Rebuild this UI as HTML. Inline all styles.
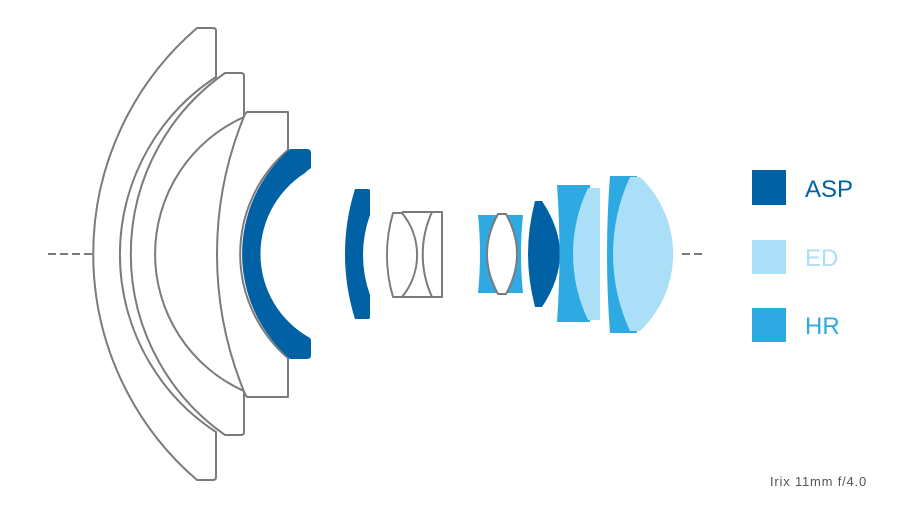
<!DOCTYPE html>
<html><head><meta charset="utf-8"><style>
html,body{margin:0;padding:0;background:#fff;}
svg{display:block}
</style></head><body>
<svg width="900" height="509" viewBox="0 0 900 509" xmlns="http://www.w3.org/2000/svg">
<g fill="none" stroke="#7b7b7b" stroke-width="2" stroke-linejoin="round">
<line x1="48" y1="254" x2="100" y2="254" stroke-dasharray="8,4"/>
<line x1="682" y1="254" x2="702" y2="254" stroke-dasharray="8,4"/>
<path d="M197,28 L213,28 Q216,28 216,31 L216,77 A212,212 0 0 0 216,432 L216,477 Q216,480 213,480 L197,480 A298,298 0 0 1 197,28 Z" fill="#fff"/>
<path d="M225,73 L241,73 Q244,73 244,76 L244,117 A150,150 0 0 0 244,391 L244,432 Q244,435 241,435 L225,435 A221,221 0 0 1 225,73 Z" fill="#fff"/>
<path d="M247,112 L288,112 L288,150 A137,137 0 0 0 288,358 L288,397 L247,397 L245,394 A364,364 0 0 1 245,114 Z" fill="#fff"/>
</g>
<path d="M290,149 L307,149 Q311,149 311,153 L311,168 Q300,176 310,170 A96,96 0 0 0 310,338 L311,340 L311,355 Q311,359 307,359 L290,359 A139,139 0 0 1 290,149 Z" fill="#0062a5"/>
<path d="M355,189 L368,189 Q370,189 370,191 L370,215 A118,118 0 0 0 370,295 L370,317 Q370,319 368,319 L355,319 A216,216 0 0 1 355,189 Z" fill="#0062a5"/>
<g fill="none" stroke="#7b7b7b" stroke-width="2" stroke-linejoin="round">
<path d="M393,213 L402,213 A66,66 0 0 1 402,297 L393,297 A150,150 0 0 1 393,213 Z"/>
<path d="M402,212 L432,212 A102,102 0 0 0 432,297 L402,297"/>
<path d="M432,212 L442,212 L442,297 L432,297"/>
</g>
<path d="M478,215 L523,215 Q519,254 523,293 L478,293 Q482,254 478,215 Z" fill="#2fa9e1"/>
<path d="M498,214 L506,214 Q517,234 517,254 Q517,274 506,294 L498,294 Q487,274 487,254 Q487,234 498,214 Z" fill="#fff" stroke="#7b7b7b" stroke-width="2"/>
<path d="M535,201 L542,201 Q560,228 560,254 Q560,280 542,307 L535,307 Q528,280 528,254 Q528,228 535,201 Z" fill="#0062a5"/>
<path d="M557,185 L590,185 L590,322 L557,322 Q562,254 557,185 Z" fill="#2fa9e1"/>
<path d="M588,188 L600,188 L600,320 L588,320 A153,153 0 0 1 588,188 Z" fill="#abdff8"/>
<path d="M610,176 L637,176 L637,333 L610,333 Q604,254 610,176 Z" fill="#2fa9e1"/>
<path d="M630,177 L640,177 A106,106 0 0 1 640,331 L630,331 A183,183 0 0 1 630,177 Z" fill="#abdff8"/>
<rect x="752" y="170" width="34" height="35" fill="#0062a5"/>
<rect x="752" y="240" width="34" height="34" fill="#abdff8"/>
<rect x="752" y="308" width="34" height="34" fill="#2fa9e1"/>
<g font-family="Liberation Sans, sans-serif" font-size="24">
<text x="805" y="197" fill="#0062a5">ASP</text>
<text x="805" y="266" fill="#abdff8">ED</text>
<text x="805" y="334" fill="#2fa9e1">HR</text>
</g>
<text x="770" y="486" font-family="Liberation Sans, sans-serif" font-size="13" fill="#555" letter-spacing="0.8">Irix 11mm f/4.0</text>
</svg>
</body></html>
